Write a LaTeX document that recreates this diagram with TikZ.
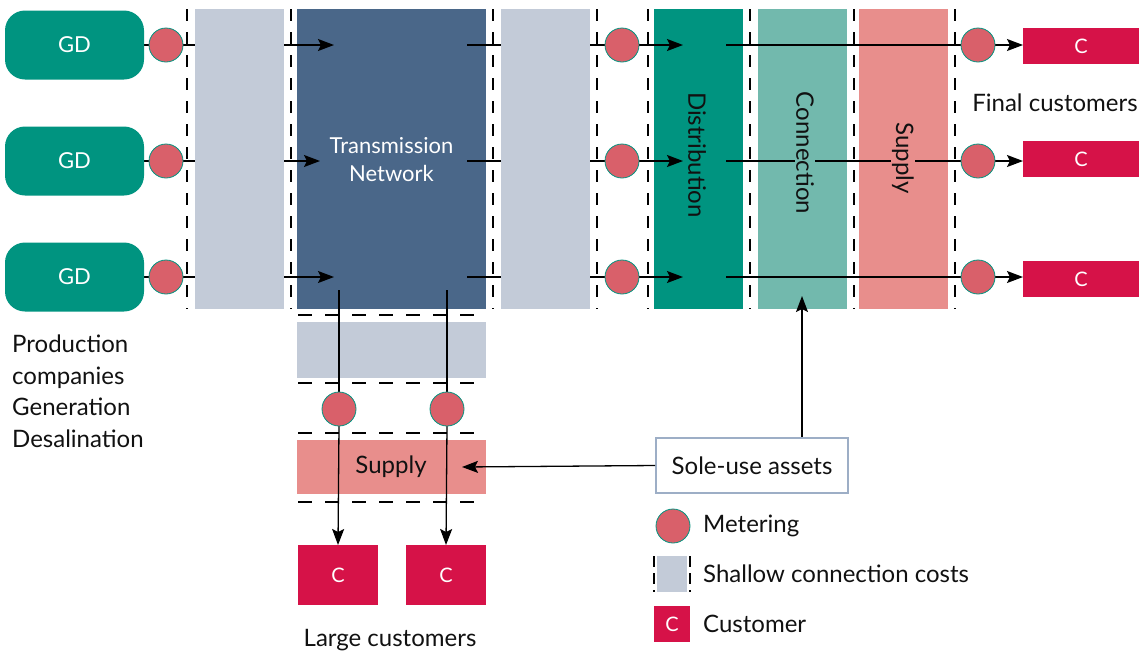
\documentclass[tikz,border=0pt]{standalone}
\usepackage{fontspec}
\setmainfont{Lato}
\usetikzlibrary{arrows.meta}
\pgfdeclarelayer{back}
\pgfdeclarelayer{mid}
\pgfsetlayers{back,mid,main}
\definecolor{gdteal}{RGB}{0,148,128}
\definecolor{transblue}{RGB}{74,103,137}
\definecolor{shallowgrey}{RGB}{195,203,216}
\definecolor{connteal}{RGB}{114,185,173}
\definecolor{supplypink}{RGB}{232,142,140}
\definecolor{meterred}{RGB}{217,96,106}
\definecolor{custred}{RGB}{214,18,72}
\definecolor{soleborder}{RGB}{157,174,198}
\definecolor{inktext}{RGB}{17,17,17}
\tikzset{
  gdbox/.style={rectangle, rounded corners=20pt, fill=gdteal, minimum width=139pt, minimum height=69pt, text=white, inner sep=0pt, outer sep=0pt, font=\fontsize{22}{26}\selectfont},
  meter/.style={circle, fill=meterred, draw=gdteal, line width=0.8pt, minimum size=34pt, inner sep=0pt, outer sep=0pt},
  custbox/.style={rectangle, fill=custred, text=white, inner sep=0pt, outer sep=0pt, font=\fontsize{20}{24}\selectfont},
  colbox/.style={rectangle, minimum width=89pt, minimum height=300pt, inner sep=0pt, outer sep=0pt},
  hbox/.style={rectangle, minimum width=189pt, inner sep=0pt, outer sep=0pt},
  dashln/.style={line width=1.3pt, dash pattern=on 12pt off 11pt},
  hdashln/.style={line width=1.3pt, dash pattern=on 14pt off 13pt},
  flow/.style={line width=1.3pt, draw=black},
  arr/.style={flow, -{Stealth[length=16pt,width=12pt,inset=3pt]}},
  collabel/.style={rotate=-90, inner sep=1pt, text=inktext, font=\fontsize{24}{28}\selectfont},
  plain/.style={text=inktext, inner sep=0pt, font=\fontsize{24}{28}\selectfont},
}
\begin{document}
\begin{tikzpicture}[x=1pt,y=-1pt]
\useasboundingbox (0,0) rectangle (1143,657);

% ---------- back layer: coloured columns ----------
\begin{pgfonlayer}{back}
\node[colbox, fill=transblue] (trans) at (391.5,159) [minimum width=189pt] {};
\node[colbox, fill=gdteal] (dist) at (698.5,159) {};
\node[colbox, fill=connteal] (conn) at (802.5,159) {};
\node[colbox, fill=supplypink] (supp) at (903.5,159) {};
\node[hbox, fill=shallowgrey, minimum height=56pt] (sh3) at (391.5,350) {};
\node[hbox, fill=supplypink, minimum height=54pt] (supp2) at (391.5,467) {};
\end{pgfonlayer}

% ---------- GD boxes ----------
\node[gdbox] (gd1) at (74.5,45) {GD};
\node[gdbox] (gd2) at (74.5,161) {GD};
\node[gdbox] (gd3) at (74.5,277) {GD};

% ---------- shallow connection boxes (above flow lines) ----------
\node[colbox, fill=shallowgrey] (sh1) at (239.5,159) {};
\node[colbox, fill=shallowgrey] (sh2) at (545.5,159) {};

% ---------- meters ----------
\node[meter] (ma1) at (166,45) {};
\node[meter] (ma2) at (166,161) {};
\node[meter] (ma3) at (166,277) {};
\node[meter] (mb1) at (622,45) {};
\node[meter] (mb2) at (622,161) {};
\node[meter] (mb3) at (622,277) {};
\node[meter] (mc1) at (978,45) {};
\node[meter] (mc2) at (978,161) {};
\node[meter] (mc3) at (978,277) {};
\node[meter] (md1) at (339,409) {};
\node[meter] (md2) at (447,409) {};

% ---------- customers ----------
\node[custbox, minimum width=116pt, minimum height=36pt] (c1) at (1081,46) {C};
\node[custbox, minimum width=116pt, minimum height=36pt] (c2) at (1081,159) {C};
\node[custbox, minimum width=116pt, minimum height=36pt] (c3) at (1081,279) {C};
\node[custbox, minimum width=80pt, minimum height=60pt] (lc1) at (338,575) {C};
\node[custbox, minimum width=80pt, minimum height=60pt] (lc2) at (446,575) {C};

% ---------- free ends ----------
\coordinate (ta1) at (334,45);
\coordinate (ta2) at (320,161);
\coordinate (ta3) at (334,277);
\coordinate (sa1) at (467,45);
\coordinate (sa2) at (467,161);
\coordinate (sa3) at (467,277);
\coordinate (tb1) at (683,45);
\coordinate (tb2) at (683,161);
\coordinate (tb3) at (683,277);
\coordinate (sb1) at (726,45);
\coordinate (sb2) at (726,161);
\coordinate (sb3) at (726,277);
\coordinate (sd1) at (339,290);
\coordinate (sd2) at (447,290);
\coordinate (tsup) at (462,467);
\coordinate (tcon) at (802,296);

% ---------- flow lines (middle layer) ----------
\begin{pgfonlayer}{mid}
\foreach \i in {1,2,3}{
  \draw[flow] (gd\i.east) -- (ma\i.west);
  \draw[arr] (ma\i.east) -- (ta\i);
  \draw[flow] (sa\i) -- (mb\i.west);
  \draw[arr] (mb\i.east) -- (tb\i);
  \draw[flow] (sb\i) -- (mc\i.west);
  \draw[arr] (mc\i.east) -- (c\i.west |- mc\i.east);
}
\draw[flow] (sd1) -- (md1.north);
\draw[flow] (sd2) -- (md2.north);
\draw[arr] (md1.south) -- (lc1.north);
\draw[arr] (md2.south) -- (lc2.north);
\end{pgfonlayer}

% ---------- dashed boundaries ----------
\foreach \x in {187,291,493,597,648,750,854,955}{
  \draw[dashln] (\x,9) -- (\x,309);
}
\foreach \y in {315,383,433,502}{
  \draw[hdashln] (298,\y) -- (486,\y);
}

% ---------- column labels ----------
\node[text=white, align=center, inner sep=0pt, font=\fontsize{22}{28}\selectfont] (translbl) at (391.5,160) {Transmission\\Network};
\node[collabel, fill=gdteal] (distlbl) at (697,155) {Distribution};
\node[collabel, fill=connteal] (connlbl) at (805,153) {Connection};
\node[collabel, fill=supplypink] (supplbl) at (903,158) {Supply};
\node[plain] (supp2lbl) at (391,467) {Supply};

% ---------- text labels ----------
\node[plain] (finallbl) at (1055,103) {Final customers};
\node[plain] (largelbl) at (390,640) {Large customers};
\node[plain, align=left, anchor=north west, font=\fontsize{24}{31.5}\selectfont] (prodlbl) at (12,335) {Production\\companies\\Generation\\Desalination};

% ---------- sole-use assets ----------
\node[rectangle, draw=soleborder, line width=2pt, fill=white, minimum width=192pt, minimum height=55pt, text=inktext, font=\fontsize{24}{28}\selectfont] (sole) at (752,465.5) {Sole-use assets};
\draw[arr] (sole.west) -- (tsup);
\draw[arr] (sole.north -| tcon) -- (tcon);

% ---------- legend ----------
\node[meter] (legm) at (673,526) {};
\node[plain, anchor=west] (legmt) at (703,526) {Metering};
\node[rectangle, fill=shallowgrey, minimum width=30pt, minimum height=36pt, inner sep=0pt] (legs) at (672,574) {};
\draw[line width=1.3pt, dash pattern=on 11pt off 6pt] (654,556) -- (654,592);
\draw[line width=1.3pt, dash pattern=on 11pt off 6pt] (690,556) -- (690,592);
\node[plain, anchor=west] (legst) at (703,574) {Shallow connection costs};
\node[custbox, minimum width=36pt, minimum height=36pt] (legc) at (672,624) {C};
\node[plain, anchor=west] (legct) at (703,624) {Customer};
\end{tikzpicture}
\end{document}
